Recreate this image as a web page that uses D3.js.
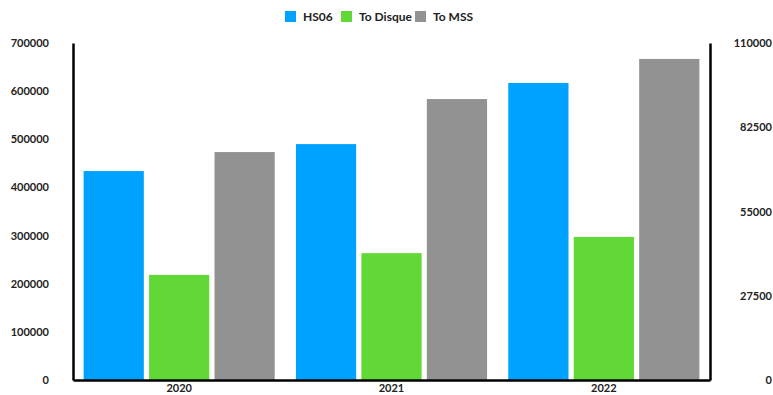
<!DOCTYPE html>
<html>
<head>
<meta charset="utf-8">
<script src="https://cdn.jsdelivr.net/npm/d3@7"></script>
<style>
  html, body { margin: 0; padding: 0; background: #fff; }
  svg { display: block; font-family: Lato, "Open Sans", sans-serif; font-weight: 700; }
</style>
</head>
<body>
<svg id="chart" width="773" height="395"></svg>
<script>
// Years on the category axis
const years = ["2020", "2021", "2022"];
// Series names and colours
const seriesNames = ["HS06", "To Disque", "To MSS"];
const seriesColors = ["#00A2FF", "#61D836", "#929292"];
// HS06 values (left axis)
const hs06 = [434000, 490000, 617000];
// Storage values (right axis)
const toDisque = [34300, 41400, 46700];
const toMss = [74400, 91700, 104800];
// Tick values
const leftTicks = [0, 100000, 200000, 300000, 400000, 500000, 600000, 700000];
const rightTicks = [0, 27500, 55000, 82500, 110000];

const svg = d3.select("#chart");
const plot = { left: 73, right: 710, top: 43, bottom: 380 };

const yLeft = d3.scaleLinear().domain([0, 700000]).range([plot.bottom, plot.top]);
const yRight = d3.scaleLinear().domain([0, 110000]).range([plot.bottom, plot.top]);

const x0 = d3.scaleBand().domain(years).range([plot.left, plot.right])
  .paddingInner(0.1).paddingOuter(0.05);
const x1 = d3.scaleBand().domain(seriesNames).range([0, x0.bandwidth()])
  .paddingInner(0.08);

const seriesValues = [hs06, toDisque, toMss];
const seriesScale = [yLeft, yRight, yRight];

const rows = [];
years.forEach((yr, i) => {
  seriesNames.forEach((s, j) => {
    rows.push({ year: yr, series: s, value: seriesValues[j][i], scale: seriesScale[j], color: seriesColors[j] });
  });
});

// Bars
svg.append("g").selectAll("rect").data(rows).join("rect")
  .attr("x", d => x0(d.year) + x1(d.series))
  .attr("width", x1.bandwidth())
  .attr("y", d => d.scale(d.value))
  .attr("height", d => plot.bottom - d.scale(d.value))
  .attr("fill", d => d.color);

// Left axis
const gl = svg.append("g").attr("transform", `translate(${plot.left},0)`)
  .call(d3.axisLeft(yLeft).tickValues(leftTicks).tickSize(0).tickPadding(24).tickFormat(d3.format("d")));
gl.select(".domain").attr("stroke", "#000").attr("stroke-width", 2.5);
gl.selectAll("text").attr("font-size", 11).attr("font-family", "Lato, sans-serif").attr("font-weight", 700).attr("fill", "#222");

// Right axis
const gr = svg.append("g").attr("transform", `translate(${plot.right},0)`)
  .call(d3.axisRight(yRight).tickValues(rightTicks).tickSize(0).tickPadding(0).tickFormat(d3.format("d")));
gr.select(".domain").attr("stroke", "#000").attr("stroke-width", 2.5);
gr.selectAll("text").attr("font-size", 11).attr("font-family", "Lato, sans-serif").attr("font-weight", 700)
  .attr("fill", "#222").attr("text-anchor", "end").attr("x", 62);

// Bottom axis
const gb = svg.append("g").attr("transform", `translate(0,${plot.bottom})`)
  .call(d3.axisBottom(x0).tickSize(0).tickPadding(4));
gb.select(".domain").attr("stroke", "#000").attr("stroke-width", 2.5);
gb.selectAll("text").attr("font-size", 11).attr("font-family", "Lato, sans-serif").attr("font-weight", 700).attr("fill", "#222");

// Legend
const legendX = [285, 341, 415];
const lg = svg.append("g");
seriesNames.forEach((s, j) => {
  lg.append("rect").attr("x", legendX[j]).attr("y", 11).attr("width", 11).attr("height", 11).attr("fill", seriesColors[j]);
  lg.append("text").attr("x", legendX[j] + 18).attr("y", 21).attr("font-size", 12).attr("fill", "#222").text(s);
});
</script>
</body>
</html>
